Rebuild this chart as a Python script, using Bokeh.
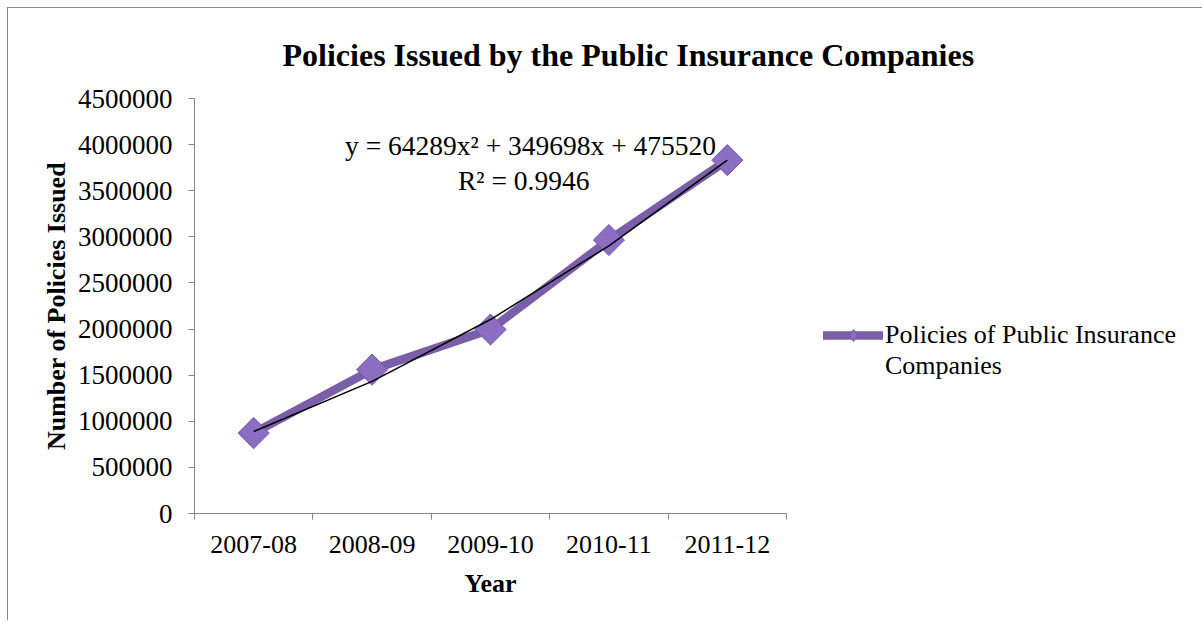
import math
from bokeh.plotting import figure
from bokeh.models import (Range1d, FixedTicker, Label, Legend, LegendItem,
                          BasicTickFormatter, ColumnDataSource)
from bokeh.embed import file_html
from bokeh.resources import INLINE

# ---------------- data ----------------
years = ["2007-08", "2008-09", "2009-10", "2010-11", "2011-12"]
policies = [872000, 1560000, 1995000, 2965000, 3832000]
# quadratic trendline values at each year (from y = 64289x^2 + 349698x + 475520)
trend = [889507, 1432072, 2103215, 2902936, 3831235]
y_ticks = [0, 500000, 1000000, 1500000, 2000000, 2500000, 3000000,
           3500000, 4000000, 4500000]
title_text = "Policies Issued by the Public Insurance Companies"
equation_text = "y = 64289x\u00b2 + 349698x + 475520"
r2_text = "R\u00b2 = 0.9946"
series_label_1 = "Policies of Public Insurance"
series_label_2 = "Companies"

FONT = "Liberation Serif"
AXIS_GRAY = "#868686"
LINE_PURPLE = "#7b5ea8"
MARK_PURPLE = "#8b6dc2"

xs = [i + 0.5 for i in range(len(years))]
src = ColumnDataSource(dict(x=xs, y=policies, t=trend))

p = figure(frame_width=592, frame_height=415, output_backend="svg",
           toolbar_location=None,
           x_range=Range1d(0, len(years)), y_range=Range1d(0, 4500000),
           min_border_left=186, min_border_right=12, min_border_top=90,
           min_border_bottom=107)
p.styles = {"margin-left": "7px", "margin-top": "7px",
            "border-top": "1px solid #8a8a8a", "border-left": "1px solid #8a8a8a"}
p.outline_line_color = None
p.xgrid.grid_line_color = None
p.ygrid.grid_line_color = None
p.background_fill_color = "white"
p.border_fill_color = "white"

# title
p.title.text = title_text
p.title.align = "left"
p.title.offset = 88
p.title.text_font = FONT
p.title.text_font_size = "32px"
p.title.text_font_style = "bold"
p.title.text_color = "black"
p.title.standoff = 52

# x axis: labels at category centres, ticks at category boundaries
xt = FixedTicker(ticks=xs, minor_ticks=list(range(len(years) + 1)))
p.xaxis.ticker = xt
p.xaxis.major_label_overrides = {x: yv for x, yv in zip(xs, years)}
p.xaxis.major_tick_line_color = None
p.xaxis.minor_tick_line_color = AXIS_GRAY
p.xaxis.minor_tick_in = 0
p.xaxis.minor_tick_out = 6
p.xaxis.axis_line_color = AXIS_GRAY
p.xaxis.major_label_text_font = FONT
p.xaxis.major_label_text_font_size = "26px"
p.xaxis.major_label_text_color = "black"
p.xaxis.major_label_standoff = 16
p.xaxis.axis_label = "Year"
p.xaxis.axis_label_text_font = FONT
p.xaxis.axis_label_text_font_size = "26px"
p.xaxis.axis_label_text_font_style = "bold"
p.xaxis.axis_label_text_color = "black"
p.xaxis.axis_label_standoff = 13

p.yaxis.ticker = FixedTicker(ticks=y_ticks)
p.yaxis.formatter = BasicTickFormatter(use_scientific=False)
p.yaxis.major_tick_line_color = AXIS_GRAY
p.yaxis.major_tick_in = 0
p.yaxis.major_tick_out = 6
p.yaxis.minor_tick_line_color = None
p.yaxis.axis_line_color = AXIS_GRAY
p.yaxis.major_label_text_font = FONT
p.yaxis.major_label_text_font_size = "27px"
p.yaxis.major_label_text_color = "black"
p.yaxis.major_label_standoff = 16
p.yaxis.axis_label = "Number of Policies Issued"
p.yaxis.axis_label_text_font = FONT
p.yaxis.axis_label_text_font_size = "26px"
p.yaxis.axis_label_text_font_style = "bold"
p.yaxis.axis_label_text_color = "black"
p.yaxis.axis_label_standoff = 4

line_r = p.line("x", "y", source=src, line_color=LINE_PURPLE, line_width=8.5,
                line_join="round", line_cap="round")
# diamond proxy (hidden under the rotated squares) so the legend shows a diamond
legend_mark_r = p.scatter("x", "y", source=src, marker="diamond", size=20,
                          fill_color=MARK_PURPLE, line_color="#7457ab")
mark_r = p.scatter("x", "y", source=src, marker="square", angle=math.pi / 4,
                   size=22, fill_color=MARK_PURPLE, line_color="#7457ab",
                   line_width=1)
p.line("x", "t", source=src, line_color="black", line_width=1.5)

blank_r = p.line(x=[xs[0]], y=[policies[0]], line_alpha=0)

legend = Legend(items=[LegendItem(label=series_label_1,
                                  renderers=[line_r, legend_mark_r]),
                       LegendItem(label=series_label_2, renderers=[blank_r])],
                location=(37, 132), orientation="vertical",
                glyph_width=60, glyph_height=30, label_standoff=2,
                label_height=30, spacing=1, padding=0, margin=0,
                border_line_color=None, background_fill_alpha=0,
                label_text_font=FONT, label_text_font_size="26px",
                label_text_color="black")
p.add_layout(legend, "right")

p.add_layout(Label(x=2.838, y=3995000, text=equation_text, text_font=FONT,
                   text_font_size="27.5px", text_align="center",
                   text_baseline="middle", text_color="black"))
p.add_layout(Label(x=2.78, y=3615000, text=r2_text, text_font=FONT,
                   text_font_size="27.5px", text_align="center",
                   text_baseline="middle", text_color="black"))

open("out.html", "w").write(file_html(p, INLINE))
